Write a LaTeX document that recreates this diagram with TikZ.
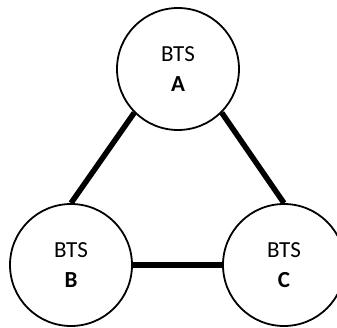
\documentclass[tikz,border=0pt]{standalone}
\usepackage{fontspec}
\setmainfont{Carlito}
\begin{document}
\begin{tikzpicture}[x=1pt,y=1pt,
  bts/.style={circle,draw=black,line width=1.8pt,minimum size=122pt,inner sep=0pt,
    align=center,font=\fontsize{23}{30}\selectfont},
  link/.style={line width=5.5pt}]
\useasboundingbox (0,0) rectangle (337,327);
\begin{scope}
\clip (0,0) rectangle (337,327);
\node[bts] (A) at (178,258) {BTS\\\textbf{A}};
\node[bts] (B) at (71,62) {BTS\\\textbf{B}};
\node[bts] (C) at (284,62) {BTS\\\textbf{C}};
\draw[link] (A.-135) -- (B.north);
\draw[link] (A.-45) -- (C.north);
\draw[link] (B.east) -- (C.west);
\end{scope}
\end{tikzpicture}
\end{document}
